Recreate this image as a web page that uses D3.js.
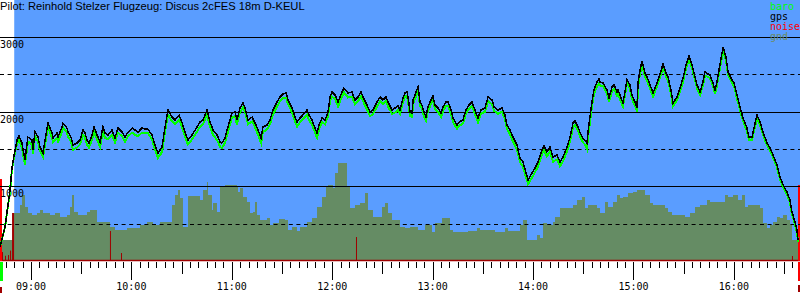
<!DOCTYPE html>
<html>
<head>
<meta charset="utf-8">
<script src="https://cdn.jsdelivr.net/npm/d3@7/dist/d3.min.js"></script>
<style>
body { margin: 0; background: #fff; }
text { font-family: "DejaVu Sans Mono", monospace; font-size: 10px; }
.title { font-family: "Liberation Sans", Arial, sans-serif; font-size: 11.2px; }
</style>
</head>
<body>
<div id="chart"></div>
<script>
// time in minutes since midnight, altitudes in metres
var times = [521.5,524.5,527.5,528.7,530.5,531.7,532.9,534.6,536.4,538.2,540.6,541.2,542.4,544.2,545.4,547.2,549.6,550.2,552.6,553.2,
  555.6,556.2,558.5,559.1,561.5,562.1,563.9,565.1,567.5,569.3,571.1,572.3,573.5,574.7,576.5,577.7,579.5,581.3,583.0,584.2,
  586.0,588.4,590.2,592.0,594.4,596.2,598.0,600.4,602.2,604.0,606.3,608.1,609.9,612.3,614.1,615.9,618.3,620.1,621.9,624.3,
  626.1,628.5,630.2,632.0,633.8,636.2,639.2,641.0,642.8,645.2,647.0,648.8,651.2,653.0,654.1,655.9,657.7,660.1,661.9,663.1,
  664.9,666.7,667.9,669.7,672.1,673.9,675.7,677.5,678.6,681.0,682.8,684.6,687.0,688.8,690.6,692.4,693.6,696.0,697.8,699.0,
  700.8,702.5,704.9,706.1,707.9,709.7,710.9,712.1,713.9,715.7,717.5,718.7,719.9,721.7,723.5,725.8,727.0,729.4,731.8,733.6,
  735.4,737.2,738.4,740.8,742.6,744.4,746.8,748.6,750.3,752.1,753.3,755.7,757.5,759.3,760.5,762.3,763.5,764.7,765.3,766.5,
  767.7,768.3,770.1,771.3,772.5,773.6,774.8,776.0,777.2,779.0,780.2,781.4,783.2,785.0,786.2,788.0,789.2,791.0,792.2,794.6,
  795.8,798.1,799.9,801.7,803.5,805.3,807.1,808.9,811.3,813.1,815.5,816.7,819.1,821.4,823.2,824.4,826.2,828.0,830.4,832.2,
  834.0,835.8,837.0,839.4,841.2,843.0,845.3,846.5,848.3,850.1,851.9,854.3,856.1,857.9,860.3,862.1,863.9,865.1,866.9,868.0,
  869.8,871.0,872.2,872.8,874.0,875.2,876.4,878.2,879.4,880.0,881.8,884.2,885.4,887.2,888.4,890.2,890.8,892.6,893.7,894.9,
  896.1,897.9,899.1,900.9,902.1,902.7,903.9,905.1,906.9,908.1,909.9,911.7,912.9,914.7,917.0,917.6,919.4,920.6,922.4,923.6,
  926.0,927.8,929.6,931.4,933.2,935.0,936.2,938.0,939.8,941.5,942.7,943.9,945.7,947.5,948.7,949.9,951.1,952.9,953.5,955.3,
  956.5,958.9,960.1,961.8,963.7,965.4,967.8,969.0,970.8,972.0,973.8,975.6,977.4,979.8,981.6,983.4,985.8,987.6,989.4,991.7,
  993.5,994.7,995.3,996.5,997.7,998.3];

var gps = [187,455,951,1259,1486,1620,1674,1580,1352,1660,1620,1486,1727,1660,1526,1446,1781,1848,1714,1647,
  1714,1660,1794,1848,1781,1727,1660,1553,1580,1620,1754,1714,1620,1580,1687,1794,1687,1593,1794,1714,
  1687,1754,1647,1781,1727,1660,1727,1781,1754,1727,1781,1767,1767,1687,1553,1446,1526,1794,2022,1928,
  1888,1955,1861,1727,1620,1687,1794,1861,1888,2022,1861,1754,1687,1593,1580,1647,1794,1982,1995,1888,
  2049,2116,2049,1888,1928,1848,1754,1647,1794,1821,1888,2022,2129,2196,2236,2250,2156,2049,1928,1861,
  1915,1955,2022,1955,1888,1781,1714,1821,1915,1888,1995,2196,2263,2223,2129,2263,2316,2250,2263,2156,
  2196,2263,2196,2089,1995,2022,2129,2196,2156,2196,2129,2022,2049,2075,2022,2183,2250,2263,2196,1995,
  1982,2156,2263,2330,2129,2089,1995,1928,2062,2156,2209,2089,2049,1982,2062,2129,2129,2022,1915,1821,
  1861,1888,2022,2089,2129,2022,1915,2022,2049,2196,2156,2062,2022,2049,1955,1821,1754,1660,1553,1379,
  1326,1178,1085,1178,1245,1326,1486,1540,1460,1526,1393,1419,1326,1393,1526,1660,1848,1875,1794,1727,
  1647,1620,1580,1714,1928,2129,2290,2397,2437,2397,2383,2290,2183,2330,2357,2263,2290,2183,2116,2263,
  2424,2357,2223,2129,2049,2383,2557,2678,2517,2464,2357,2250,2316,2424,2584,2651,2517,2464,2290,2116,
  2196,2316,2450,2624,2745,2624,2517,2357,2263,2397,2531,2517,2491,2383,2290,2397,2557,2785,2865,2732,
  2531,2424,2383,2223,2062,1915,1781,1660,1660,1781,1955,1861,1727,1580,1513,1419,1285,1125,1018,924,
  817,656,616,522,415,281];

var baro = [187,455,940,1240,1460,1580,1620,1520,1290,1600,1560,1430,1670,1600,1470,1390,1720,1790,1650,1590,
  1650,1600,1730,1790,1720,1670,1600,1490,1520,1560,1690,1650,1560,1520,1630,1730,1630,1530,1730,1650,
  1630,1690,1590,1720,1670,1600,1670,1720,1690,1670,1720,1710,1710,1630,1490,1380,1460,1730,1960,1870,
  1830,1890,1800,1670,1560,1630,1730,1800,1830,1960,1800,1690,1620,1530,1510,1580,1730,1920,1940,1830,
  1990,2060,1990,1830,1870,1790,1690,1580,1730,1760,1830,1960,2070,2140,2180,2190,2100,1990,1870,1800,
  1860,1900,1960,1890,1830,1720,1650,1760,1860,1830,1940,2140,2200,2170,2070,2200,2260,2190,2200,2100,
  2140,2210,2140,2030,1940,1970,2070,2140,2100,2140,2070,1970,1990,2020,1970,2130,2200,2210,2140,1940,
  1930,2100,2210,2280,2080,2040,1940,1880,2010,2100,2160,2040,2000,1930,2010,2080,2080,1970,1860,1770,
  1810,1840,1970,2040,2080,1970,1860,1970,2000,2140,2100,2010,1970,2000,1900,1770,1700,1600,1490,1320,
  1260,1120,1030,1120,1190,1270,1430,1480,1400,1470,1330,1360,1270,1340,1470,1600,1790,1820,1740,1670,
  1590,1560,1500,1650,1860,2070,2230,2340,2380,2350,2340,2240,2130,2280,2310,2210,2240,2130,2070,2210,
  2380,2310,2170,2080,2000,2330,2500,2620,2470,2420,2310,2200,2270,2380,2540,2600,2470,2420,2240,2070,
  2150,2270,2400,2580,2700,2580,2470,2310,2220,2350,2480,2470,2450,2340,2240,2350,2510,2730,2810,2690,
  2490,2380,2340,2180,2020,1880,1740,1620,1620,1740,1910,1820,1690,1550,1480,1390,1250,1090,990,890,
  790,620,590,490,380,260];

// ground elevation below the track (step values)
var gndTimes = [521.5,529.3,533.5,534.6,536.4,538.2,540.6,543.6,545.4,547.2,551.4,554.4,557.4,561.5,563.3,564.5,565.7,568.1,573.5,575.3,
  579.5,587.2,590.2,597.4,605.2,609.3,612.9,617.1,624.3,626.1,627.9,629.1,630.8,633.8,641.0,642.8,645.2,645.8,648.2,648.8,
  651.2,653.0,655.9,663.1,663.7,664.9,666.7,669.1,670.9,672.7,673.9,675.1,676.9,681.0,682.8,684.6,688.2,691.8,693.6,696.0,
  699.0,700.8,704.9,707.9,710.9,713.9,716.3,717.5,720.5,721.7,723.5,728.8,730.6,733.6,736.6,739.6,741.4,744.4,749.7,751.5,
  753.3,755.7,760.5,763.5,766.5,771.3,775.4,779.6,781.4,785.6,790.4,792.2,801.1,806.5,808.3,817.3,823.2,825.0,832.2,834.0,
  836.4,842.4,844.2,846.0,848.3,851.9,853.1,856.1,863.9,866.3,869.2,871.0,872.8,878.2,880.0,883.0,884.8,887.8,890.2,892.0,
  893.7,896.7,899.7,902.1,906.9,909.9,911.7,918.8,920.6,923.0,930.8,933.8,936.8,939.8,943.9,945.7,954.7,956.5,959.5,962.5,
  964.8,966.6,968.4,975.6,977.4,979.8,981.6,983.4,985.8,987.6,989.4,991.7,993.5,994.7,997.7,999.5];
var gnd = [281,643,750,884,723,643,616,643,683,643,616,643,589,616,723,884,656,616,656,683,
  522,455,415,442,482,522,482,522,750,884,951,844,455,870,817,951,1058,884,683,777,
  656,991,1018,991,924,977,857,790,643,656,790,616,549,576,482,509,562,549,415,455,
  402,455,522,576,723,857,991,1018,977,1178,1312,991,710,750,777,911,683,589,723,777,
  643,549,455,442,455,415,482,388,509,576,415,388,402,442,415,388,442,402,482,549,
  281,348,308,509,482,522,589,710,750,817,857,710,750,710,643,790,723,790,884,844,
  857,911,924,951,884,777,750,710,656,616,589,643,723,750,817,790,884,857,884,817,
  884,723,750,710,509,442,482,522,589,576,616,549,482,281,254,254];

// engine noise spikes
var noiseTimes = [521.5,522.7,524.5,526.3,527.5,528.7,587.2,593.8,734.2,994.7,998.9];
var noise = [1098,120,70,80,140,643,402,107,321,67,1018];

var gridLevels = [500,1000,1500,2000,2500,3000];
var labelLevels = [1000,2000,3000];
var recordStart = 530; // 08:50
var legendItems = [["baro","#00ff00"],["gps","#000000"],["noise","#ff0000"],["gnd","#6b8c63"]];

var width = 800, height = 300;
var svg = d3.select("#chart").append("svg")
  .attr("width", width).attr("height", height);

var x = d3.scaleLinear().domain([521.5, 999.5]).range([0, 800]);
var y = d3.scaleLinear().domain([0, 3000]).range([261, 37]);

var blue = "#5a9dff", ground = "#658c64", darkRed = "#a00000";

// sky
svg.append("rect")
  .attr("x", x(recordStart)).attr("y", 0)
  .attr("width", width - x(recordStart)).attr("height", y(0))
  .style("fill", blue);

// ground area
var gndData = gndTimes.map(function(t, i) { return [t, gnd[i]]; });
svg.append("path")
  .datum(gndData)
  .attr("d", d3.area().curve(d3.curveStepAfter)
    .x(function(d) { return x(d[0]); })
    .y0(y(0)).y1(function(d) { return y(d[1]); }))
  .style("fill", ground)
  .style("shape-rendering", "crispEdges");

// noise baseline + spikes
svg.append("line")
  .attr("x1", 0).attr("x2", width)
  .attr("y1", y(0) - 0.5).attr("y2", y(0) - 0.5)
  .style("stroke", darkRed).style("stroke-width", 1.6);

svg.selectAll(".noise")
  .data(noiseTimes)
  .enter().append("rect")
  .attr("class", "noise")
  .attr("x", function(d) { return Math.min(x(d), width - 2); })
  .attr("y", function(d, i) { return y(noise[i]); })
  .attr("width", function(d, i) { return noise[i] > 500 ? 2 : 1; })
  .attr("height", function(d, i) { return y(0) - y(noise[i]); })
  .style("fill", function(d, i) { return noise[i] >= 1000 ? "#ff0000" : darkRed; });

// grid
svg.selectAll(".grid")
  .data(gridLevels)
  .enter().append("line")
  .attr("class", "grid")
  .attr("x1", 0).attr("x2", width)
  .attr("y1", function(d) { return Math.round(y(d)) + 0.5; })
  .attr("y2", function(d) { return Math.round(y(d)) + 0.5; })
  .style("stroke", "#000")
  .style("stroke-width", 1)
  .style("stroke-dasharray", function(d) { return d % 1000 === 0 ? null : "4,3.6"; });

svg.selectAll(".ylabel")
  .data(labelLevels)
  .enter().append("text")
  .attr("class", "ylabel")
  .attr("x", 0)
  .attr("y", function(d) { return y(d) + 11; })
  .text(function(d) { return d; });

// traces
var line = d3.line()
  .x(function(d) { return x(d[0]); })
  .y(function(d) { return y(d[1]); });

svg.append("path")
  .datum(times.map(function(t, i) { return [t, baro[i]]; }))
  .attr("d", line)
  .style("fill", "none").style("stroke", "#00ff00").style("stroke-width", 2)
  .style("shape-rendering", "crispEdges");

svg.append("path")
  .datum(times.map(function(t, i) { return [t, gps[i]]; }))
  .attr("d", line)
  .style("fill", "none").style("stroke", "#000").style("stroke-width", 1.5)
  .style("shape-rendering", "crispEdges");

// time axis ticks
var tickTimes = d3.range(525, 999, 5);
svg.selectAll(".tick")
  .data(tickTimes)
  .enter().append("line")
  .attr("class", "tick")
  .attr("x1", function(d) { return Math.round(x(d)) + 0.5; })
  .attr("x2", function(d) { return Math.round(x(d)) + 0.5; })
  .attr("y1", 262)
  .attr("y2", function(d) { return d % 60 === 0 ? 280 : (d % 30 === 0 ? 274 : 268); })
  .style("stroke", "#000");

svg.selectAll(".xlabel")
  .data(tickTimes.filter(function(d) { return d % 60 === 0; }))
  .enter().append("text")
  .attr("class", "xlabel")
  .attr("x", function(d) { return x(d); })
  .attr("y", 290)
  .attr("text-anchor", "middle")
  .text(function(d) { return d3.format("02d")(Math.floor(d / 60)) + ":" + d3.format("02d")(d % 60); });

// start / end markers below axis
svg.append("rect").attr("x", 0).attr("y", 262).attr("width", 3).attr("height", 19).style("fill", "#00ff00");
svg.append("rect").attr("x", 0).attr("y", 287).attr("width", 2).attr("height", 6).style("fill", darkRed);
svg.append("rect").attr("x", 798).attr("y", 262).attr("width", 2).attr("height", 19).style("fill", "#ff0000");
svg.append("rect").attr("x", 798).attr("y", 285).attr("width", 2).attr("height", 7).style("fill", darkRed);

// title
svg.append("text")
  .attr("class", "title")
  .attr("x", 0).attr("y", 10)
  .text("Pilot: Reinhold Stelzer Flugzeug: Discus 2cFES 18m D-KEUL");

// legend
svg.selectAll(".legend")
  .data(legendItems)
  .enter().append("text")
  .attr("class", "legend")
  .attr("x", 770)
  .attr("y", function(d, i) { return 10 + i * 10; })
  .style("fill", function(d) { return d[1]; })
  .text(function(d) { return d[0]; });
</script>
</body>
</html>
